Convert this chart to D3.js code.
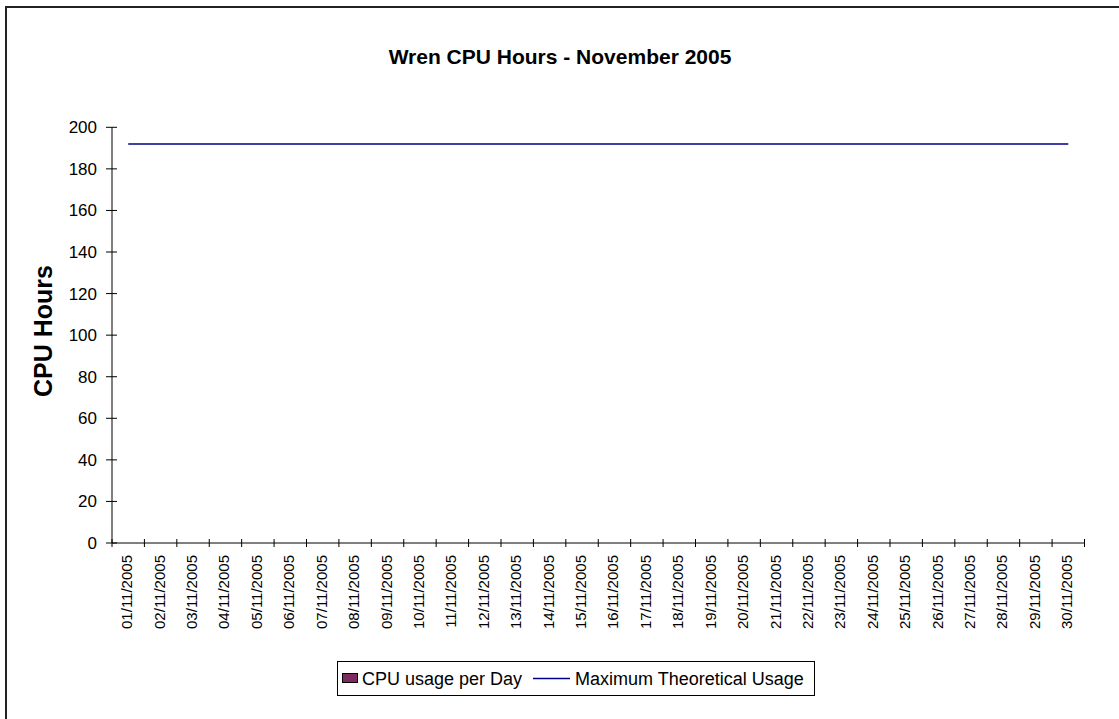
<!DOCTYPE html>
<html>
<head>
<meta charset="utf-8">
<script src="https://cdn.jsdelivr.net/npm/d3@7"></script>
<style>
  body { margin: 0; background: #fff; }
  svg { font-family: "Liberation Sans", Arial, sans-serif; }
</style>
</head>
<body>
<svg id="chart" width="1119" height="719"></svg>
<script>
// days of November 2005
var days = ["01/11/2005", "02/11/2005", "03/11/2005", "04/11/2005", "05/11/2005",
            "06/11/2005", "07/11/2005", "08/11/2005", "09/11/2005", "10/11/2005",
            "11/11/2005", "12/11/2005", "13/11/2005", "14/11/2005", "15/11/2005",
            "16/11/2005", "17/11/2005", "18/11/2005", "19/11/2005", "20/11/2005",
            "21/11/2005", "22/11/2005", "23/11/2005", "24/11/2005", "25/11/2005",
            "26/11/2005", "27/11/2005", "28/11/2005", "29/11/2005", "30/11/2005"];

// no usage recorded this month
var usage = [0, 0, 0, 0, 0, 0, 0, 0, 0, 0,
             0, 0, 0, 0, 0, 0, 0, 0, 0, 0,
             0, 0, 0, 0, 0, 0, 0, 0, 0, 0];

var maxUsage = [192, 192, 192, 192, 192, 192, 192, 192, 192, 192,
                192, 192, 192, 192, 192, 192, 192, 192, 192, 192,
                192, 192, 192, 192, 192, 192, 192, 192, 192, 192];

var yTicks = [0, 20, 40, 60, 80, 100, 120, 140, 160, 180, 200];

var svg = d3.select("#chart");

// plot area edges
var plotLeft = 112, plotRight = 1084.5, plotTop = 127.3, plotBottom = 543;

// outer chart frame
svg.append("rect")
    .attr("x", 6).attr("y", 7)
    .attr("width", 1200).attr("height", 800)
    .style("fill", "none")
    .style("stroke", "#222")
    .style("stroke-width", 2);

// outer padding = half the inner padding, so step = width / 30
var x = d3.scaleBand()
    .domain(days)
    .range([plotLeft, plotRight])
    .paddingInner(0.5)
    .paddingOuter(0.25);

var y = d3.scaleLinear()
    .domain([0, 200])
    .range([plotBottom, plotTop]);

// title
svg.append("text")
    .attr("x", 560).attr("y", 64)
    .attr("text-anchor", "middle")
    .style("font-weight", "bold")
    .style("font-size", "21px")
    .text("Wren CPU Hours - November 2005");

// y axis title
svg.append("text")
    .attr("transform", "translate(52,331) rotate(-90)")
    .attr("text-anchor", "middle")
    .style("font-weight", "bold")
    .style("font-size", "25px")
    .text("CPU Hours");

// bars (all zero)
svg.append("g").selectAll("rect")
    .data(usage).enter().append("rect")
    .attr("x", function(d, i) { return x(days[i]); })
    .attr("y", function(d) { return y(d); })
    .attr("width", x.bandwidth())
    .attr("height", function(d) { return plotBottom - y(d); })
    .style("fill", "#7d2a60")
    .style("stroke", "#000");

// y axis
svg.append("line")
    .attr("x1", plotLeft).attr("x2", plotLeft)
    .attr("y1", plotTop).attr("y2", plotBottom)
    .style("stroke", "#000");

var yt = svg.append("g").selectAll("g")
    .data(yTicks).enter().append("g");

yt.append("line")
    .attr("x1", plotLeft - 6).attr("x2", plotLeft + 5)
    .attr("y1", d => y(d)).attr("y2", d => y(d))
    .style("stroke", "#000");

yt.append("text")
    .attr("x", 97)
    .attr("y", d => y(d))
    .attr("dy", "0.35em")
    .attr("text-anchor", "end")
    .style("font-size", "17px")
    .text(d => d);

// x axis
svg.append("line")
    .attr("x1", plotLeft).attr("x2", plotRight)
    .attr("y1", plotBottom).attr("y2", plotBottom)
    .style("stroke", "#000");

var step = x.step();
svg.append("g").selectAll("line")
    .data(d3.range(days.length + 1)).enter().append("line")
    .attr("x1", i => plotLeft + i * step).attr("x2", i => plotLeft + i * step)
    .attr("y1", plotBottom - 4).attr("y2", plotBottom + 4)
    .style("stroke", "#000");

svg.append("g").selectAll("text")
    .data(days).enter().append("text")
    .attr("transform", function(d) {
      return "translate(" + (x(d) + x.bandwidth() / 2 + 4) + "," + 555 + ") rotate(-90)";
    })
    .attr("text-anchor", "end")
    .style("font-size", "15px")
    .text(d => d);

// maximum theoretical usage line
var line = d3.line()
    .x(function(d, i) { return x(days[i]) + x.bandwidth() / 2; })
    .y(function(d) { return y(d); });

svg.append("path")
    .datum(maxUsage)
    .attr("d", line)
    .style("fill", "none")
    .style("stroke", "#00008c")
    .style("stroke-width", 1.5);

// legend
var lg = svg.append("g");
lg.append("rect")
    .attr("x", 337.5).attr("y", 661.5)
    .attr("width", 477).attr("height", 34)
    .style("fill", "#fff")
    .style("stroke", "#000");

lg.append("rect")
    .attr("x", 342.5).attr("y", 673.5)
    .attr("width", 15).attr("height", 9)
    .style("fill", "#7d2a60")
    .style("stroke", "#000");

lg.append("text")
    .attr("x", 362).attr("y", 684.5)
    .style("font-size", "18px")
    .text("CPU usage per Day");

lg.append("line")
    .attr("x1", 533).attr("x2", 570)
    .attr("y1", 678.5).attr("y2", 678.5)
    .style("stroke", "#00008c")
    .style("stroke-width", 1.5);

lg.append("text")
    .attr("x", 575).attr("y", 684.5)
    .style("font-size", "18px")
    .text("Maximum Theoretical Usage");
</script>
</body>
</html>
